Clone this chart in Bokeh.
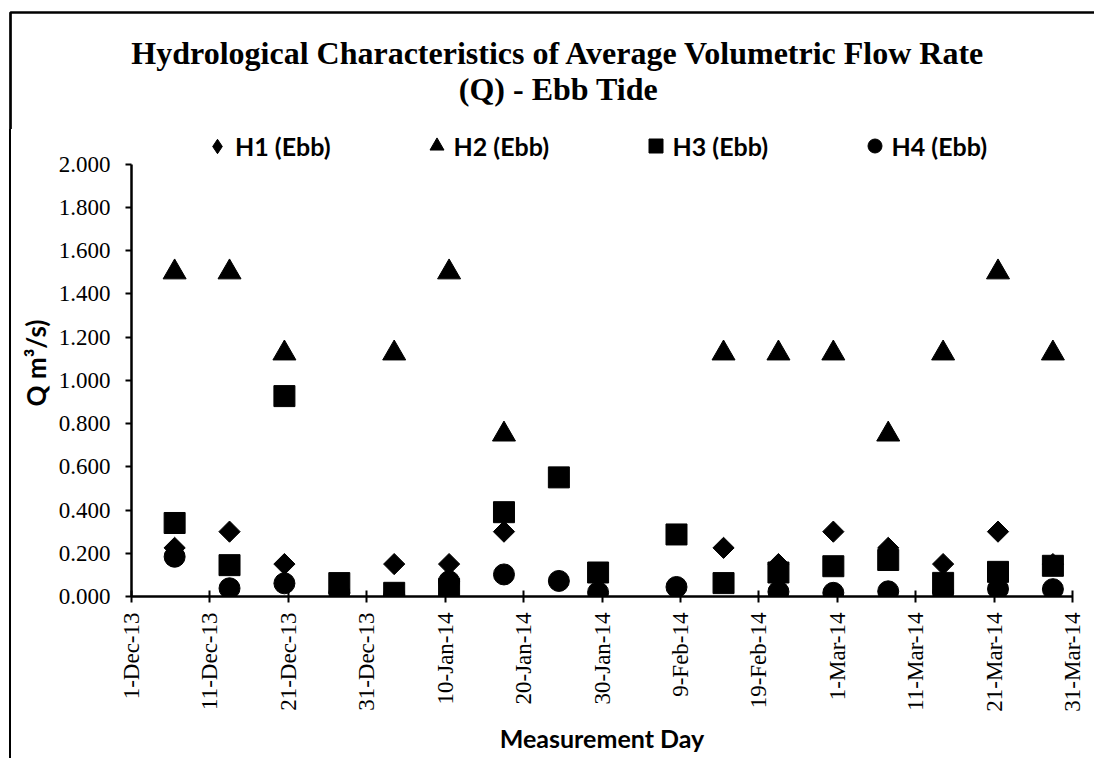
import numpy as np
import pandas as pd
from bokeh.plotting import figure
from bokeh.layouts import column, row
from bokeh.models import (ColumnDataSource, Range1d, FixedTicker, NumeralTickFormatter,
                          Label, Legend, LegendItem, BoxAnnotation, Div, Title)
from bokeh.embed import file_html
from bokeh.resources import INLINE

nan = float("nan")

# ---- data ----
dates = ["2013-12-06", "2013-12-13", "2013-12-20", "2013-12-27", "2014-01-03", "2014-01-10",
         "2014-01-17", "2014-01-24", "2014-01-29", "2014-02-08", "2014-02-14", "2014-02-21",
         "2014-02-28", "2014-03-07", "2014-03-14", "2014-03-21", "2014-03-28"]
h1 = [0.225, 0.300, 0.150, nan, 0.150, 0.150, 0.300, nan, nan, nan,
      0.225, 0.150, 0.300, 0.225, 0.150, 0.300, 0.150]
h2 = [1.500, 1.500, 1.125, nan, 1.125, 1.500, 0.750, nan, nan, nan,
      1.125, 1.125, 1.125, 0.750, 1.125, 1.500, 1.125]
h3 = [0.340, 0.145, 0.927, 0.062, 0.017, 0.035, 0.390, 0.551, 0.111, 0.287,
      0.062, 0.111, 0.140, 0.169, 0.063, 0.114, 0.142]
h4 = [0.184, 0.038, 0.061, 0.016, 0.008, 0.070, 0.102, 0.072, 0.019, 0.044,
      nan, 0.022, 0.017, 0.024, 0.015, 0.035, 0.034]
series_names = ["H1 (Ebb)", "H2 (Ebb)", "H3 (Ebb)", "H4 (Ebb)"]

tick_dates = ["2013-12-01", "2013-12-11", "2013-12-21", "2013-12-31", "2014-01-10",
              "2014-01-20", "2014-01-30", "2014-02-09", "2014-02-19", "2014-03-01",
              "2014-03-11", "2014-03-21", "2014-03-31"]
tick_labels = ["1-Dec-13", "11-Dec-13", "21-Dec-13", "31-Dec-13", "10-Jan-14", "20-Jan-14",
               "30-Jan-14", "9-Feb-14", "19-Feb-14", "1-Mar-14", "11-Mar-14", "21-Mar-14",
               "31-Mar-14"]
y_ticks = [0.0, 0.2, 0.4, 0.6, 0.8, 1.0, 1.2, 1.4, 1.6, 1.8, 2.0]

title_lines = ["Hydrological Characteristics of Average Volumetric Flow Rate", "(Q) - Ebb Tide"]
x_title = "Measurement Day"
y_title = "Q m\u00b3/s)"

# Excel date axis places points in the middle of their day
x = pd.to_datetime(dates) + pd.Timedelta(hours=12)
src = ColumnDataSource(dict(x=x, h1=h1, h2=h2, h3=h3, h4=h4))


def ms(d):
    return float(pd.Timestamp(d).value // 10**6)


tick_ms = [ms(d) for d in tick_dates]

# ---- page layout (pixels) ----
PW, PH = 1094, 758
HEAD_H = 129          # header (title) height
STRIP_W = 14          # left strip holding the chart border
YT_W = 40             # column holding the y axis title
F_LEFT, F_RIGHT = 131, 1072   # plot frame, page x
F_TOP_Y2, F_BOT = 164, 601    # page y of y=2.0 and y=0
BORDER_X, BORDER_Y = 10, 12
MAIN_H = PH - HEAD_H
MAIN_W = PW - STRIP_W - YT_W
FRAME_H = F_BOT - HEAD_H

y_end = y_ticks[-1] * FRAME_H / (F_BOT - F_TOP_Y2)


def clean(fig):
    fig.outline_line_color = None
    fig.background_fill_color = "white"
    fig.border_fill_color = "white"


# ---- header with the title ----
head = figure(width=PW, height=HEAD_H, x_range=Range1d(0, PW), y_range=Range1d(HEAD_H, 0),
              x_axis_location=None, y_axis_location=None, toolbar_location=None,
              output_backend="svg", min_border=0)
clean(head)
head.grid.visible = False
for line, base in zip(title_lines, [52.5, 88.5]):
    head.add_layout(Label(x=558, y=base, text=line, text_align="center",
                          text_baseline="alphabetic", text_font="Liberation Serif",
                          text_font_style="bold", text_font_size="32px", text_color="black"))
head.add_layout(BoxAnnotation(left=BORDER_X, right=PW + 100, top=BORDER_Y, bottom=HEAD_H + 100,
                              fill_alpha=0, line_color="black", line_alpha=1, line_width=2.7))

# ---- strip carrying the left border ----
strip = Div(text="", width=STRIP_W, height=MAIN_H, margin=0,
            styles={"background": "linear-gradient(90deg, #ffffff 0px, #ffffff 8.65px, "
                                  "#000000 8.65px, #000000 11.35px, #ffffff 11.35px)"})

# ---- column carrying the y axis title ----
ytf = figure(width=YT_W, height=MAIN_H, x_range=Range1d(0, YT_W), y_range=Range1d(0, FRAME_H),
             x_axis_location=None, y_axis_location=None, toolbar_location=None,
             output_backend="svg", min_border_left=0, min_border_right=0, min_border_top=0,
             min_border_bottom=PH - F_BOT)
clean(ytf)
ytf.grid.visible = False
ytf.add_layout(Label(x=35 - STRIP_W, y=F_BOT - 365, text=y_title, angle=np.pi / 2,
                     text_align="center", text_baseline="middle", text_font="Lato",
                     text_font_style="bold", text_font_size="26px", text_color="black"))

# ---- main chart ----
p = figure(width=MAIN_W, height=MAIN_H, x_axis_type="datetime",
           x_range=Range1d(start=pd.Timestamp(tick_dates[0]), end=pd.Timestamp(tick_dates[-1])),
           y_range=Range1d(start=y_ticks[0], end=y_end),
           output_backend="svg", toolbar_location=None,
           min_border_left=F_LEFT - STRIP_W - YT_W, min_border_right=PW - F_RIGHT,
           min_border_top=0, min_border_bottom=PH - F_BOT)
clean(p)
p.grid.visible = False

xa = p.xaxis[0]
xa.ticker = FixedTicker(ticks=tick_ms)
xa.major_label_overrides = {t: l for t, l in zip(tick_ms, tick_labels)}
xa.major_label_orientation = np.pi / 2
xa.major_label_text_font = "Liberation Serif"
xa.major_label_text_font_size = "23px"
xa.major_label_text_color = "black"
xa.major_label_standoff = 10
xa.major_tick_in = 6
xa.major_tick_out = 6
xa.major_tick_line_width = 2
xa.minor_tick_line_color = None
xa.axis_line_width = 2.5
xa.axis_line_color = "black"

ya = p.yaxis[0]
ya.ticker = FixedTicker(ticks=y_ticks)
ya.bounds = (y_ticks[0], y_ticks[-1])
ya.formatter = NumeralTickFormatter(format="0.000")
ya.major_label_text_font = "Liberation Serif"
ya.major_label_text_font_size = "23px"
ya.major_label_text_color = "black"
ya.major_label_standoff = 15
ya.major_tick_in = 0
ya.major_tick_out = 6
ya.major_tick_line_width = 2
ya.minor_tick_line_color = None
ya.axis_line_width = 2.5
ya.axis_line_color = "black"

# x axis title as a title in the lower panel
p.add_layout(Title(text=x_title, align="center", offset=4, vertical_align="bottom",
                   standoff=12, text_font="Lato", text_font_style="bold",
                   text_font_size="25px", text_color="black"), "below")

r1 = p.scatter(x="x", y="h1", source=src, marker="square", angle=np.pi / 4, size=15,
               color="black")
r2 = p.scatter(x="x", y="h2", source=src, marker="triangle", size=23, color="black")
r3 = p.scatter(x="x", y="h3", source=src, marker="square", size=21, color="black")
r4 = p.scatter(x="x", y="h4", source=src, marker="circle", size=21, color="black")
# legend key for H1 (legend keys are drawn unrotated, so a diamond marker stands in)
k1 = p.scatter(x=[nan], y=[nan], marker="diamond", size=15, color="black")
legend_keys = [k1, r2, r3, r4]


def fx(px):
    return px - F_LEFT


def fy(py):
    return F_BOT - py


# legends (one per item so that each key can match its size)
centers = [217, 436, 655, 874]
gws = [36, 35, 35, 35]
for name, r, cx, gw in zip(series_names, legend_keys, centers, gws):
    leg = Legend(items=[LegendItem(label=name, renderers=[r])], orientation="horizontal",
                 location=(fx(cx) - gw / 2, fy(150.5) - gw / 2), glyph_width=gw,
                 glyph_height=gw, label_height=gw, label_standoff=int(9 - gw / 2),
                 padding=0, margin=0, border_line_color=None, background_fill_alpha=0,
                 label_text_font="Lato", label_text_font_style="bold",
                 label_text_font_size="25px", label_text_color="black")
    p.add_layout(leg)

layout = column(head, row(strip, ytf, p, spacing=0), spacing=0)
open("out.html", "w").write(file_html(layout, INLINE))
